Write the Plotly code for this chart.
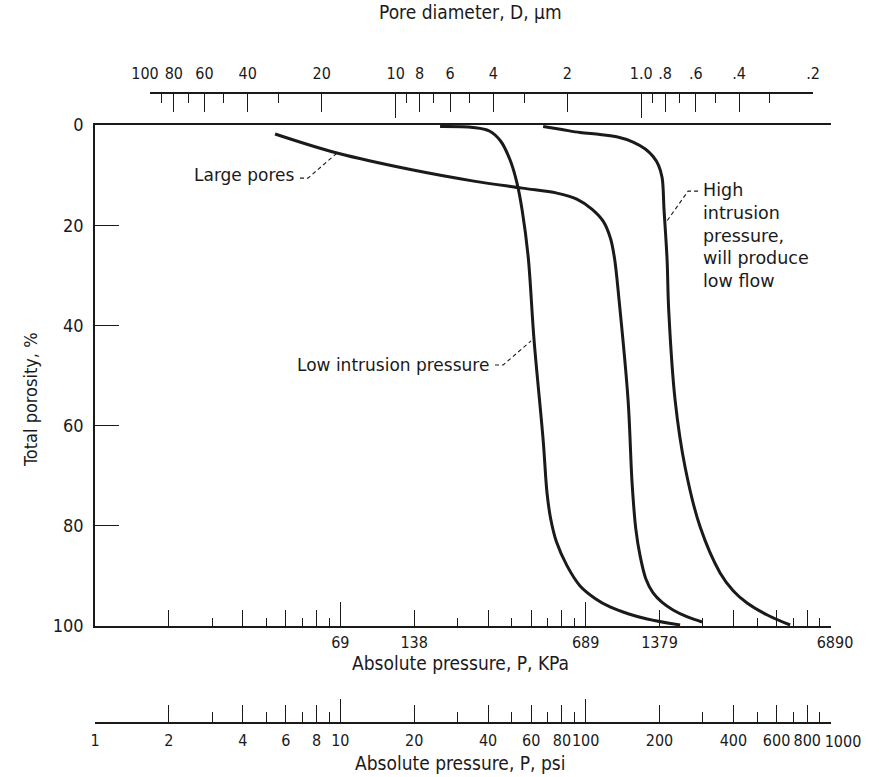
import math
import plotly.graph_objects as go

# ---------------- data ----------------
# pressure in psi, porosity in %
low_psi = [25.5, 34.8, 40.5, 45.0, 49.2, 52.5, 55.1, 58.3, 61.6, 67.1, 69.6, 72.0, 76.0, 84.0, 94.9, 110.0, 125.7, 150.0, 178.0, 242.6]
low_por = [0.3, 0.5, 1.2, 3.2, 7.0, 11.6, 17.0, 26.3, 42.9, 62.9, 73.5, 78.6, 83.2, 88.0, 92.0, 94.6, 96.2, 97.6, 98.6, 99.8]

mid_psi = [5.42, 9.69, 19.79, 35.0, 55.1, 76.4, 92.0, 106.0, 117.8, 126.0, 131.0, 136.8, 148.9, 154.6, 160.0, 166.7, 176.0, 188.3, 205.0, 227.1, 260.0, 298.2]
mid_por = [1.8, 5.6, 9.0, 11.2, 12.6, 13.6, 14.8, 16.8, 19.2, 22.5, 26.5, 34.9, 54.9, 71.5, 80.5, 86.0, 90.6, 93.4, 95.3, 96.8, 98.2, 99.2]

high_psi = [67.1, 80.0, 94.9, 114.5, 135.0, 156.1, 175.0, 188.3, 198.0, 204.9, 208.7, 214.7, 218.0, 231.5, 254.3, 292.7, 353.2, 400.0, 455.0, 550.0, 681.3]
high_por = [0.3, 0.9, 1.5, 1.9, 2.4, 3.4, 4.8, 6.3, 8.0, 10.5, 17.0, 26.9, 36.9, 54.9, 68.3, 80.2, 89.4, 93.0, 95.4, 97.8, 99.8]

# axis tick values / labels
kpa_label_vals = [10, 20, 100, 200, 1000]
kpa_label_text = ["69", "138", "689", "1379", "6890"]
p_tall = [1, 10, 100, 1000]
p_medium = [2, 4, 6, 8, 20, 40, 60, 80, 200, 400, 600, 800]
p_short = [3, 5, 7, 9, 30, 50, 70, 90, 300, 500, 700, 900]
psi_label_vals = [1, 2, 4, 6, 8, 10, 20, 40, 60, 80, 100, 200, 400, 600, 800, 1000]
psi_label_text = ["1", "2", "4", "6", "8", "10", "20", "40", "60", "80", "100", "200", "400", "600", "800", "1000"]

d_label_vals = [100, 80, 60, 40, 20, 10, 8, 6, 4, 2, 1, 0.8, 0.6, 0.4, 0.2]
d_label_text = ["100", "80", "60", "40", "20", "10", "8", "6", "4", "2", "1.0", ".8", ".6", ".4", ".2"]
d_long = [100, 10, 1, 0.2]
d_short = [90, 70, 50, 30, 9, 7, 5, 3, 0.9, 0.7, 0.5, 0.3]

porosity_ticks = [0, 20, 40, 60, 80, 100]

# annotation leaders (psi, porosity)
lead_large_psi = [6.85, 7.38, 9.69]
lead_large_por = [10.6, 10.6, 5.6]
lead_low_psi = [42.7, 46.1, 59.9]
lead_low_por = [47.9, 47.9, 43.1]
lead_high_psi = [287.2, 261.5, 212.7]
lead_high_por = [13.2, 13.2, 19.4]

# ---------------- figure ----------------
INK = "#1a1a1a"
NARROW = "DejaVu Sans Condensed, Liberation Sans Narrow, sans-serif"
LABEL_FONT = "DejaVu Sans, Noto Sans, sans-serif"

fig = go.Figure()

curve_style = dict(color=INK, width=3, shape="spline", smoothing=1.0)
for xs, ys in [(low_psi, low_por), (mid_psi, mid_por), (high_psi, high_por)]:
    fig.add_trace(go.Scatter(x=xs, y=ys, mode="lines", line=curve_style,
                             xaxis="x", yaxis="y", hoverinfo="skip", showlegend=False))

for xs, ys in [(lead_large_psi, lead_large_por), (lead_low_psi, lead_low_por), (lead_high_psi, lead_high_por)]:
    fig.add_trace(go.Scatter(x=xs, y=ys, mode="lines", line=dict(color=INK, width=1.1, dash="4px,3px"),
                             xaxis="x", yaxis="y", hoverinfo="skip", showlegend=False))

# empty traces so every auxiliary axis is part of a subplot
for ax in ["x2", "x3", "x4", "x5", "x6", "x7", "x8", "x9", "x10"]:
    fig.add_trace(go.Scatter(x=[None], y=[None], xaxis=ax, yaxis="y", mode="lines",
                             hoverinfo="skip", showlegend=False))

L, R, T, B = 95, 48, 93, 54
W, H = 879, 777
pw, ph = W - L - R, H - T - B
y_dom = [(H - B - 626) / ph, (H - B - 125) / ph]
d_dom = [(150 - L) / pw, (813 - L) / pw]

prange = [0, 3]
drange = [2, math.log10(0.2)]

tickfont = dict(family=NARROW, size=16, color=INK)
base = dict(type="log", showgrid=False, zeroline=False, fixedrange=True,
            automargin=False, tickangle=0)

def aux(**kw):
    d = dict(base)
    d.update(dict(showline=False, showticklabels=False, ticks="inside",
                  tickcolor=INK, tickwidth=1.4))
    d.update(kw)
    return d

def split_labels(vals, texts, special):
    """labels for the main axis (all but `special`) and for the offset axis (only `special`)."""
    main_v = [v for v in vals if v != special]
    main_t = [t for v, t in zip(vals, texts) if v != special]
    return main_v, main_t, texts[vals.index(special)]

kpa_v, kpa_t, kpa_end = split_labels(kpa_label_vals, kpa_label_text, 1000)
psi_v, psi_t, psi_end = split_labels(psi_label_vals, psi_label_text, 1000)
d_v, d_t, d_end = split_labels(d_label_vals, d_label_text, 100)

line_kw = dict(showline=True, linecolor=INK, linewidth=1.6)

layout = dict(
    template="none",
    width=W, height=H, autosize=False,
    margin=dict(l=L, r=R, t=T, b=B, pad=0),
    paper_bgcolor="white", plot_bgcolor="rgba(0,0,0,0)",
    showlegend=False,
    yaxis=dict(domain=y_dom, range=[100, 0], tickvals=porosity_ticks,
               ticks="inside", ticklen=24, tickwidth=1.4, tickcolor=INK,
               showline=True, linecolor=INK, linewidth=1.6, showgrid=False, zeroline=False,
               tickfont=dict(family=NARROW, size=18, color=INK), ticklabelstandoff=6,
               anchor="x", fixedrange=True, automargin=False),
    # KPa axis (bottom of plot)
    xaxis=dict(base, range=prange, anchor="y", side="bottom",
               tickmode="array", tickvals=kpa_v, ticktext=kpa_t,
               ticks="inside", ticklen=16, tickwidth=1.4, tickcolor=INK,
               mirror=True, tickfont=tickfont, ticklabelstandoff=1, **line_kw),
    xaxis2=aux(overlaying="x", anchor="y", range=prange, tickmode="array", tickvals=p_tall[1:],
               ticktext=["" for _ in p_tall[1:-1]] + [kpa_end], showticklabels=True,
               tickfont=tickfont, ticklabelstandoff=5, ticklabelshift=4, ticklen=24),
    xaxis3=aux(overlaying="x", anchor="y", range=prange, tickmode="array", tickvals=p_medium, ticklen=16),
    xaxis4=aux(overlaying="x", anchor="y", range=prange, tickmode="array", tickvals=p_short, ticklen=8),
    # psi axis (separate, at bottom of paper)
    xaxis5=dict(base, overlaying="x", anchor="free", position=0, side="bottom", range=prange,
                tickmode="array", tickvals=psi_v, ticktext=psi_t,
                ticks="inside", ticklen=17, tickwidth=1.4, tickcolor=INK,
                tickfont=tickfont, ticklabelstandoff=3, **line_kw),
    xaxis9=aux(overlaying="x", anchor="free", position=0, side="bottom", range=prange,
               tickmode="array", tickvals=p_tall, ticklen=24,
               ticktext=["" for _ in p_tall[:-1]] + [psi_end], showticklabels=True,
               tickfont=tickfont, ticklabelstandoff=7, ticklabelshift=12),
    xaxis10=aux(overlaying="x", anchor="free", position=0, side="bottom", range=prange,
                tickmode="array", tickvals=p_short, ticklen=11),
    # pore diameter axis (top)
    xaxis6=dict(base, domain=d_dom, anchor="free", position=1, side="top", range=drange,
                tickmode="array", tickvals=d_v, ticktext=d_t,
                ticks="inside", ticklen=18, tickwidth=1.4, tickcolor=INK,
                tickfont=tickfont, ticklabelstandoff=7, **line_kw),
    xaxis7=aux(overlaying="x6", anchor="free", position=1, side="top", range=drange,
               tickmode="array", tickvals=d_long, ticklen=24,
               ticktext=[d_end] + ["" for _ in d_long[1:]], showticklabels=True,
               tickfont=tickfont, ticklabelstandoff=11, ticklabelshift=5),
    xaxis8=aux(overlaying="x6", anchor="free", position=1, side="top", range=drange,
               tickmode="array", tickvals=d_short, ticklen=9),
)
fig.update_layout(**layout)

title_font = dict(family=NARROW, size=19, color=INK)
ann_font = dict(family=LABEL_FONT, size=17, color=INK)

def px_x(p):
    return (p - L) / pw

def px_y(p):
    return (H - B - p) / ph

annotations = [
    dict(text="Pore diameter, D, \u03bcm", x=px_x(470), y=px_y(12), xref="paper", yref="paper",
         showarrow=False, font=title_font, xanchor="center", yanchor="middle"),
    dict(text="Absolute pressure, P, KPa", x=px_x(460), y=px_y(663), xref="paper", yref="paper",
         showarrow=False, font=title_font, xanchor="center", yanchor="middle"),
    dict(text="Absolute pressure, P, psi", x=px_x(460), y=px_y(763), xref="paper", yref="paper",
         showarrow=False, font=title_font, xanchor="center", yanchor="middle"),
    dict(text="Total porosity, %", x=px_x(30), y=px_y(400), xref="paper", yref="paper",
         showarrow=False, font=dict(family=NARROW, size=18, color=INK), textangle=-90,
         xanchor="center", yanchor="middle"),
    dict(text="Large pores", x=math.log10(lead_large_psi[0]), y=10.0, xref="x", yref="y",
         showarrow=False, font=ann_font, xanchor="right", yanchor="middle", xshift=-3),
    dict(text="Low intrusion pressure", x=math.log10(lead_low_psi[0]), y=lead_low_por[0], xref="x", yref="y",
         showarrow=False, font=ann_font, xanchor="right", yanchor="middle", xshift=-4),
    dict(text="High<br>intrusion<br>pressure,<br>will produce<br>low flow", x=math.log10(lead_high_psi[0]),
         y=lead_high_por[0], xref="x", yref="y", showarrow=False,
         font=dict(family=LABEL_FONT, size=17.5, color=INK), align="left",
         xanchor="left", yanchor="top", xshift=3, yshift=13),
]
fig.update_layout(annotations=annotations)

fig.write_html("out.html")
